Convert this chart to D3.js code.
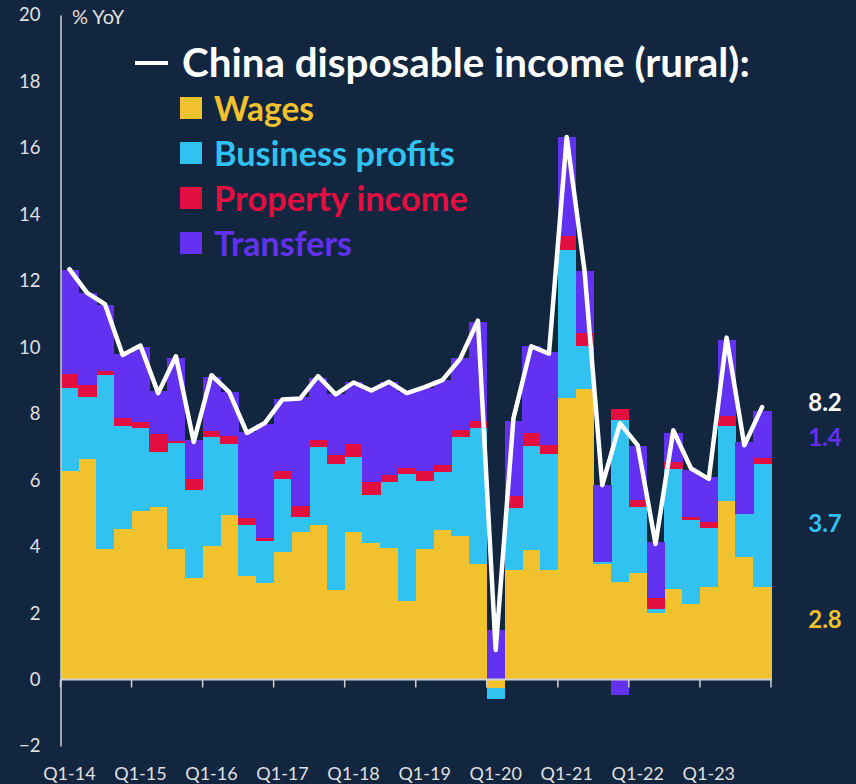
<!DOCTYPE html>
<html>
<head>
<meta charset="utf-8">
<script src="https://cdn.jsdelivr.net/npm/d3@7/dist/d3.min.js"></script>
<style>
  html, body { margin: 0; padding: 0; background: #12263F; }
  svg { display: block; }
</style>
</head>
<body>
<svg id="chart" width="856" height="784"></svg>
<script>
// ---------- DATA ----------
const quarters = [
  "Q1-14","Q2-14","Q3-14","Q4-14","Q1-15","Q2-15","Q3-15","Q4-15",
  "Q1-16","Q2-16","Q3-16","Q4-16","Q1-17","Q2-17","Q3-17","Q4-17",
  "Q1-18","Q2-18","Q3-18","Q4-18","Q1-19","Q2-19","Q3-19","Q4-19",
  "Q1-20","Q2-20","Q3-20","Q4-20","Q1-21","Q2-21","Q3-21","Q4-21",
  "Q1-22","Q2-22","Q3-22","Q4-22","Q1-23","Q2-23","Q3-23","Q4-23"
];
const wages = [
  6.27, 6.64, 3.92, 4.53, 5.07, 5.19, 3.92, 3.06,
  4.02, 4.94, 3.13, 2.91, 3.84, 4.44, 4.64, 2.70,
  4.44, 4.11, 3.96, 2.36, 3.92, 4.49, 4.31, 3.48,
  -0.25, 3.31, 3.90, 3.31, 8.47, 8.73, 3.48, 2.95,
  3.21, 2.00, 2.73, 2.26, 2.80, 5.37, 3.70, 2.80
];
const business = [
  2.50, 1.86, 5.26, 3.10, 2.50, 1.67, 3.21, 2.63,
  3.28, 2.16, 1.52, 1.27, 2.20, 0.45, 2.36, 3.80,
  2.26, 1.43, 1.98, 3.83, 2.05, 1.76, 2.99, 4.09,
  -0.35, 1.84, 3.14, 3.47, 4.46, 1.32, 0.05, 4.86,
  1.98, 0.13, 3.62, 2.53, 1.76, 2.25, 1.29, 3.70
];
const property = [
  0.44, 0.36, 0.11, 0.25, 0.19, 0.54, 0.04, 0.35,
  0.17, 0.23, 0.22, 0.08, 0.23, 0.32, 0.20, 0.27,
  0.38, 0.40, 0.23, 0.18, 0.30, 0.22, 0.22, 0.20,
  0.00, 0.37, 0.39, 0.28, 0.42, 0.39, 0.00, 0.33,
  0.22, 0.32, 0.20, 0.10, 0.18, 0.31, 0.00, 0.18
];
const transfers = [
  3.11, 2.78, 1.99, 1.93, 2.25, 1.28, 2.52, 1.16,
  1.64, 1.32, 2.58, 3.44, 2.18, 3.29, 1.89, 1.83,
  1.88, 2.76, 2.79, 2.28, 2.51, 2.54, 2.17, 2.99,
  1.50, 2.26, 2.62, 2.81, 2.98, 1.87, 2.32, -0.47,
  1.62, 1.68, 0.88, 1.41, 1.35, 2.28, 2.16, 1.40
];
const total = [
  12.35, 11.64, 11.30, 9.77, 10.05, 8.62, 9.73, 7.15,
  9.16, 8.65, 7.42, 7.72, 8.43, 8.46, 9.13, 8.58,
  8.94, 8.70, 8.96, 8.62, 8.80, 9.01, 9.65, 10.80,
  0.89, 7.86, 10.03, 9.81, 16.33, 12.31, 5.85, 7.71,
  7.05, 4.08, 7.50, 6.35, 6.04, 10.29, 7.05, 8.20
];
const yTicks = [-2, 0, 2, 4, 6, 8, 10, 12, 14, 16, 18, 20];
const xTickLabels = ["Q1-14","Q1-15","Q1-16","Q1-17","Q1-18","Q1-19","Q1-20","Q1-21","Q1-22","Q1-23"];
const seriesNames = ["Wages", "Business profits", "Property income", "Transfers"];
const seriesKeys = ["wages", "business", "property", "transfers"];
const lineName = "China disposable income (rural):";
const endLabels = [
  { key: "total", text: "8.2" },
  { key: "transfers", text: "1.4" },
  { key: "business", text: "3.7" },
  { key: "wages", text: "2.8" }
];

// ---------- STYLE ----------
const colors = {
  wages: "#F2C12E",
  business: "#31C2F2",
  property: "#E30F40",
  transfers: "#6231F2",
  total: "#FFFFFF"
};
const axisColor = "#D0D0D0";
const textColor = "#E0E0E0";
const font = "Lato, 'Open Sans', sans-serif";

// ---------- BUILD ----------
const svg = d3.select("#chart");
const mLeft = 60.5, mRight = 771, mTop = 15, mBottom = 746;

const x = d3.scaleBand().domain(quarters).range([mLeft, mRight]).padding(0);
const y = d3.scaleLinear().domain([-2, 20]).range([mBottom, mTop]);

const rows = quarters.map((q, i) => ({
  q, wages: wages[i], business: business[i], property: property[i], transfers: transfers[i]
}));
const stack = d3.stack().keys(seriesKeys).offset(d3.stackOffsetDiverging);
const stacked = stack(rows);

// bars
const gBars = svg.append("g").attr("shape-rendering", "crispEdges");
stacked.forEach(layer => {
  gBars.append("g")
    .attr("fill", colors[layer.key])
    .selectAll("rect")
    .data(layer)
    .join("rect")
    .attr("x", d => x(d.data.q))
    .attr("width", x.bandwidth() + 0.5)
    .attr("y", d => y(Math.max(d[0], d[1])))
    .attr("height", d => Math.abs(y(d[0]) - y(d[1])));
});

// y axis
const yAxis = d3.axisLeft(y).tickValues(yTicks).tickSize(0).tickPadding(20).tickFormat(d3.format("d"));
const gy = svg.append("g").attr("transform", `translate(${mLeft},0)`).call(yAxis);
gy.select(".domain").attr("stroke", axisColor).attr("stroke-width", 1.5);
gy.selectAll("text").attr("fill", textColor).attr("font-family", font).attr("font-size", 18.5);

// x axis at zero
const yearStarts = quarters.filter(q => q.startsWith("Q1"));
const gx = svg.append("g").attr("transform", `translate(0,${y(0)})`);
gx.append("line").attr("x1", mLeft).attr("x2", mRight).attr("y1", 0).attr("y2", 0)
  .attr("stroke", axisColor).attr("stroke-width", 2);
gx.selectAll("line.tick")
  .data(yearStarts.concat(["__end"]))
  .join("line")
  .attr("class", "tick")
  .attr("x1", d => d === "__end" ? mRight : x(d))
  .attr("x2", d => d === "__end" ? mRight : x(d))
  .attr("y1", 0).attr("y2", 8)
  .attr("stroke", axisColor).attr("stroke-width", 1.5);

// x labels at bottom
svg.append("g").selectAll("text")
  .data(xTickLabels)
  .join("text")
  .attr("x", d => x(d) + x.bandwidth() / 2)
  .attr("y", 780)
  .attr("text-anchor", "middle")
  .attr("fill", textColor)
  .attr("font-family", font)
  .attr("font-size", 18)
  .text(d => d);

// unit label
svg.append("text").attr("x", 72).attr("y", 24)
  .attr("fill", textColor).attr("font-family", font).attr("font-size", 20)
  .text("% YoY");

// total line
const line = d3.line()
  .x((d, i) => x(quarters[i]) + x.bandwidth() / 2)
  .y(d => y(d));
svg.append("path")
  .datum(total)
  .attr("d", line)
  .attr("fill", "none")
  .attr("stroke", colors.total)
  .attr("stroke-width", 4.5)
  .attr("stroke-linejoin", "round")
  .attr("stroke-linecap", "round");

// legend
const gLeg = svg.append("g");
gLeg.append("line").attr("x1", 135).attr("x2", 168).attr("y1", 63).attr("y2", 63)
  .attr("stroke", "#fff").attr("stroke-width", 4);
const title = gLeg.append("text").attr("x", 182).attr("y", 77)
  .attr("fill", "#fff").attr("font-family", font).attr("font-weight", 700)
  .attr("font-size", 33).text(lineName);
const tw = title.node().getComputedTextLength();
title.attr("font-size", 33 * 568 / tw);

const legTargets = [100, 241, 254, 138];
seriesKeys.forEach((k, i) => {
  const cy = 108 + i * 45;
  gLeg.append("rect").attr("x", 180).attr("y", cy - 11).attr("width", 22).attr("height", 22)
    .attr("fill", colors[k]);
  const t = gLeg.append("text").attr("x", 214).attr("y", cy + 13)
    .attr("fill", colors[k]).attr("font-family", font).attr("font-weight", 700)
    .attr("font-size", 29).text(seriesNames[i]);
  const w = t.node().getComputedTextLength();
  t.attr("font-size", 29 * legTargets[i] / w);
});

// end labels
const endY = [402, 437, 523, 619];
endLabels.forEach((d, i) => {
  svg.append("text").attr("x", 825).attr("y", endY[i]).attr("dy", "0.36em")
    .attr("text-anchor", "middle")
    .attr("fill", colors[d.key]).attr("font-family", font).attr("font-weight", 700)
    .attr("font-size", 24).text(d.text);
});
</script>
</body>
</html>
